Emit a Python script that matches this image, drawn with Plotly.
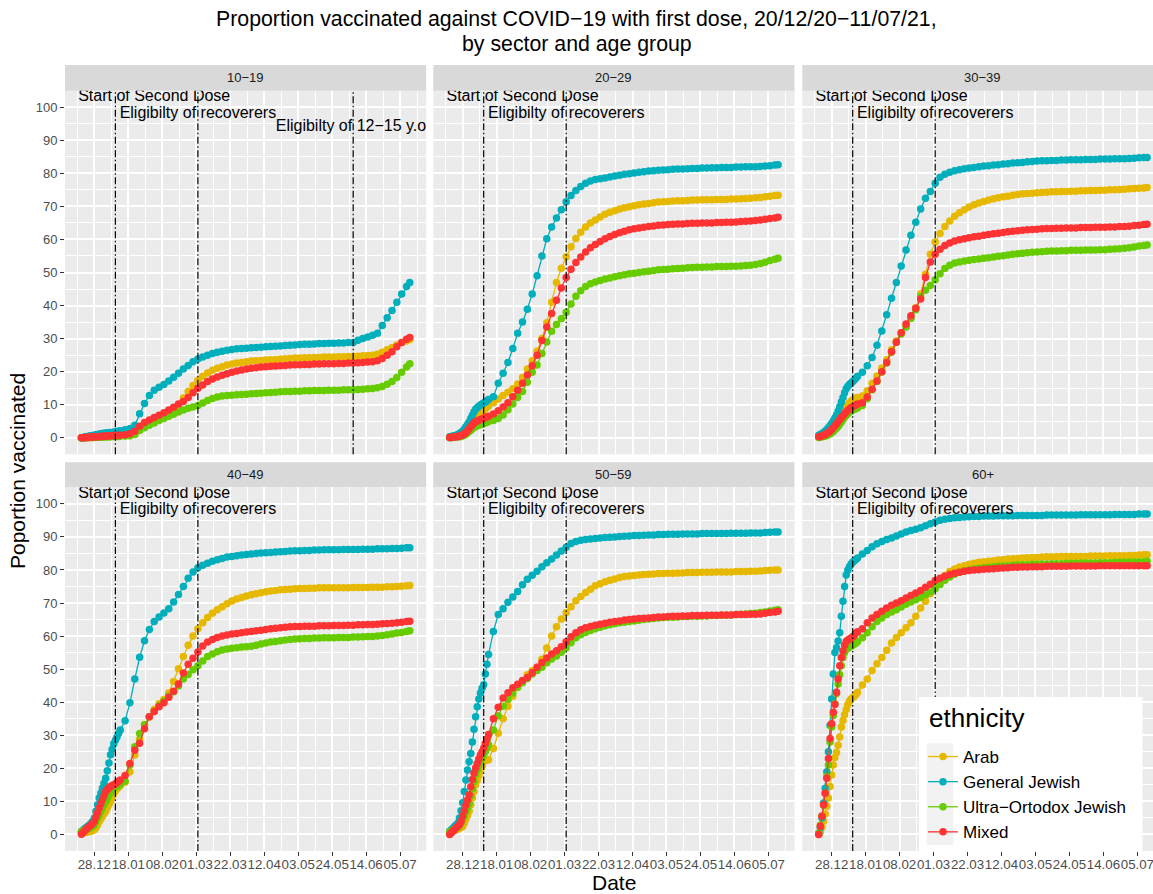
import pandas as pd
import plotly.graph_objects as go

# ---------------- data ----------------
start_date = "2020-12-20"
day_offsets = list(range(0, 25)) + list(range(27, 202, 3)) + [203]
dates = [(pd.Timestamp(start_date) + pd.Timedelta(days=d)).strftime("%Y-%m-%d") for d in day_offsets]

age_groups = ["10−19", "20−29", "30−39", "40−49", "50−59", "60+"]
ethnicities = ["Arab", "General Jewish", "Ultra−Ortodox Jewish", "Mixed"]
colors = ["#E7B800", "#00AFBB", "#66CC00", "#FF3333"]

# ---- 10-19 ----
arab_10_19 = [0, 0, 0, 0.1, 0.1, 0.1, 0.1, 0.2, 0.2, 0.2, 0.2, 0.3, 0.3, 0.3, 0.3, 0.4, 0.4, 0.4, 0.4, 0.5, 0.5, 0.5, 0.5, 0.5, 0.6,
              0.6, 0.7, 1.2, 2.5, 3.5, 4.5, 5.4, 6.2, 7.0, 7.8,
              8.6, 9.8, 12.0, 14.0, 15.8, 17.4, 18.6, 19.6, 20.4, 21.0,
              21.5, 22.0, 22.3, 22.6, 22.8, 23.0, 23.2, 23.3, 23.4, 23.5,
              23.6, 23.7, 23.8, 23.9, 24.0, 24.1, 24.1, 24.2, 24.2, 24.3,
              24.3, 24.4, 24.4, 24.4, 24.5, 24.5, 24.6, 24.6, 24.7, 24.8,
              24.9, 25.0, 25.3, 25.9, 26.6, 27.3, 28.1, 28.8, 29.3,
              29.7]
genjew_10_19 = [0, 0.1, 0.2, 0.3, 0.4, 0.5, 0.6, 0.7, 0.8, 0.9, 1.0, 1.1, 1.2, 1.3, 1.4, 1.4, 1.5, 1.5, 1.6, 1.6, 1.7, 1.8, 1.9, 2.0, 2.1,
                2.4, 2.8, 3.8, 7.3, 10.4, 12.8, 14.4, 15.3, 16.1, 17.2,
                18.3, 19.5, 20.8, 21.9, 23.0, 23.8, 24.4, 25.0, 25.5, 25.9,
                26.2, 26.5, 26.7, 26.9, 27.0, 27.1, 27.2, 27.3, 27.4, 27.5,
                27.6, 27.7, 27.8, 27.9, 28.0, 28.1, 28.2, 28.3, 28.3, 28.4,
                28.5, 28.5, 28.6, 28.6, 28.7, 28.7, 28.8, 28.8, 29.5, 30.0,
                30.5, 31.0, 31.6, 34.0, 36.3, 38.5, 41.0, 43.5, 45.8,
                47.0]
ultra_10_19 = [0, 0, 0, 0, 0.1, 0.1, 0.1, 0.1, 0.1, 0.2, 0.2, 0.2, 0.2, 0.2, 0.3, 0.3, 0.3, 0.3, 0.3, 0.4, 0.4, 0.4, 0.4, 0.4, 0.5,
               0.5, 0.6, 1.0, 2.2, 3.0, 3.8, 4.5, 5.2, 5.8, 6.5,
               7.1, 7.8, 8.4, 8.9, 9.3, 9.8, 10.5, 11.3, 11.9, 12.3,
               12.6, 12.8, 12.9, 13.0, 13.1, 13.2, 13.3, 13.4, 13.5, 13.6,
               13.7, 13.8, 13.9, 14.0, 14.0, 14.1, 14.1, 14.2, 14.2, 14.3,
               14.3, 14.3, 14.4, 14.4, 14.4, 14.5, 14.5, 14.5, 14.6, 14.7,
               14.8, 14.9, 15.1, 15.5, 16.2, 17.0, 18.2, 19.8, 21.4,
               22.4]
mixed_10_19 = [0, 0, 0.1, 0.1, 0.1, 0.2, 0.2, 0.2, 0.3, 0.3, 0.3, 0.4, 0.4, 0.4, 0.5, 0.5, 0.5, 0.6, 0.6, 0.6, 0.7, 0.7, 0.7, 0.8, 0.8,
               0.9, 1.2, 2.0, 3.5, 4.6, 5.4, 6.1, 6.8, 7.6, 8.4,
               9.2, 10.2, 11.0, 12.2, 13.6, 15.0, 16.0, 17.0, 17.8, 18.4,
               18.9, 19.4, 19.8, 20.2, 20.5, 20.8, 21.0, 21.2, 21.4, 21.5,
               21.6, 21.7, 21.8, 21.9, 22.0, 22.1, 22.1, 22.2, 22.2, 22.3,
               22.3, 22.4, 22.4, 22.4, 22.5, 22.5, 22.6, 22.6, 22.7, 22.8,
               22.9, 23.0, 23.3, 24.0, 25.0, 26.0, 27.5, 28.8, 29.8,
               30.3]

# ---- 20-29 ----
arab_20_29 = [0.3, 0.3, 0.4, 0.5, 0.6, 0.7, 0.9, 1.1, 1.4, 1.8, 2.3, 2.9, 3.5, 4.2, 4.9, 5.6, 6.4, 6.8, 7.2, 7.6, 8.0, 8.4, 8.8, 9.2, 9.6,
              10.6, 11.7, 12.8, 13.8, 14.8, 16.3, 18.2, 20.8, 23.3, 26.2,
              30.0, 34.8, 41.0, 47.0, 51.3, 54.8, 57.8, 60.3, 62.2, 63.8,
              65.0, 65.9, 66.8, 67.6, 68.2, 68.7, 69.2, 69.6, 69.9, 70.2,
              70.5, 70.7, 70.9, 71.1, 71.3, 71.4, 71.5, 71.6, 71.7, 71.7,
              71.8, 71.9, 71.9, 72.0, 72.0, 72.0, 72.1, 72.1, 72.1, 72.2,
              72.2, 72.3, 72.4, 72.5, 72.6, 72.7, 72.9, 73.1, 73.3,
              73.4]
genjew_20_29 = [0.3, 0.4, 0.5, 0.6, 0.8, 1.0, 1.3, 1.6, 2.0, 2.6, 3.3, 4.0, 4.8, 5.8, 6.8, 7.8, 8.6, 9.1, 9.5, 9.9, 10.2, 10.5, 10.8, 11.2, 11.6,
                12.4, 16.5, 19.5, 22.8, 27.0, 31.6, 35.0, 38.9, 43.5, 49.0,
                55.0, 60.2, 63.8, 66.5, 69.0, 71.4, 73.3, 74.8, 76.0, 77.0,
                77.7, 78.1, 78.4, 78.6, 78.9, 79.2, 79.4, 79.7, 79.9, 80.1,
                80.3, 80.5, 80.7, 80.8, 80.9, 81.0, 81.1, 81.2, 81.3, 81.3,
                81.4, 81.5, 81.5, 81.6, 81.6, 81.7, 81.7, 81.8, 81.8, 81.8,
                81.9, 81.9, 82.0, 82.0, 82.0, 82.1, 82.2, 82.3, 82.5,
                82.6]
ultra_20_29 = [0, 0.1, 0.1, 0.2, 0.2, 0.3, 0.3, 0.4, 0.6, 0.8, 1.1, 1.5, 1.9, 2.3, 2.7, 3.1, 3.4, 3.6, 3.8, 4.0, 4.2, 4.3, 4.5, 4.7, 4.9,
               5.2, 5.8, 6.9, 8.5, 10.2, 12.2, 14.0, 16.8, 19.8, 22.0,
               25.5, 29.0, 32.2, 34.3, 36.0, 38.0, 40.5, 42.8, 44.5, 45.8,
               46.6, 47.1, 47.6, 48.0, 48.3, 48.7, 49.0, 49.3, 49.6, 49.8,
               50.0, 50.2, 50.4, 50.6, 50.8, 50.9, 51.0, 51.1, 51.2, 51.3,
               51.4, 51.5, 51.6, 51.6, 51.7, 51.7, 51.8, 51.8, 51.8, 51.9,
               51.9, 52.0, 52.1, 52.2, 52.4, 52.7, 53.1, 53.6, 54.0,
               54.3]
mixed_20_29 = [0.1, 0.1, 0.2, 0.2, 0.3, 0.4, 0.5, 0.7, 0.9, 1.2, 1.6, 2.1, 2.7, 3.3, 3.9, 4.5, 4.9, 5.1, 5.3, 5.5, 5.7, 5.9, 6.1, 6.3, 6.5,
               7.2, 8.2, 9.3, 10.6, 12.4, 14.4, 16.5, 19.0, 21.8, 25.0,
               29.4, 33.5, 37.6, 41.6, 45.3, 48.5, 51.0, 53.0, 54.7, 56.2,
               57.5, 58.5, 59.4, 60.2, 60.9, 61.5, 62.0, 62.5, 62.9, 63.2,
               63.5, 63.7, 63.9, 64.1, 64.3, 64.4, 64.5, 64.6, 64.7, 64.7,
               64.8, 64.9, 64.9, 65.0, 65.0, 65.0, 65.1, 65.1, 65.2, 65.2,
               65.3, 65.4, 65.5, 65.6, 65.7, 65.9, 66.1, 66.3, 66.5,
               66.7]

# ---- 30-39 ----
arab_30_39 = [0.3, 0.5, 0.8, 1.1, 1.4, 1.7, 2.2, 2.7, 3.3, 4.0, 4.6, 5.2, 5.9, 6.6, 7.3, 8.0, 8.7, 9.4, 10.0, 10.6, 11.1, 11.4, 11.7, 12.0, 12.2,
              12.6, 14.2, 16.5, 18.7, 21.1, 23.6, 26.6, 29.3, 31.8, 34.1,
              36.6, 39.3, 43.6, 49.5, 55.5, 59.2, 61.8, 63.9, 65.6, 67.0,
              68.1, 69.0, 69.8, 70.5, 71.0, 71.5, 71.9, 72.3, 72.6, 72.9,
              73.1, 73.4, 73.6, 73.8, 73.9, 74.0, 74.1, 74.2, 74.3, 74.4,
              74.4, 74.5, 74.5, 74.6, 74.6, 74.7, 74.7, 74.8, 74.8, 74.9,
              74.9, 75.0, 75.0, 75.1, 75.2, 75.3, 75.4, 75.5, 75.6,
              75.7]
genjew_30_39 = [0.8, 1.0, 1.3, 1.6, 2.0, 2.5, 3.0, 3.6, 4.3, 5.1, 6.0, 6.9, 8.0, 9.4, 10.8, 12.2, 13.6, 14.8, 15.6, 16.1, 16.6, 17.0, 17.5, 18.0, 18.6,
                19.8, 21.8, 24.3, 28.0, 32.3, 37.2, 42.2, 47.0, 52.0, 56.8,
                61.3, 65.2, 69.2, 72.5, 74.5, 77.0, 78.8, 79.7, 80.3, 80.8,
                81.1, 81.4, 81.6, 81.8, 82.0, 82.2, 82.3, 82.5, 82.6, 82.8,
                82.9, 83.1, 83.2, 83.3, 83.5, 83.6, 83.7, 83.8, 83.8, 83.9,
                83.9, 84.0, 84.0, 84.1, 84.1, 84.1, 84.2, 84.2, 84.2, 84.3,
                84.3, 84.3, 84.4, 84.4, 84.4, 84.5, 84.6, 84.7, 84.8,
                84.8]
ultra_30_39 = [0.1, 0.2, 0.3, 0.4, 0.5, 0.7, 0.9, 1.2, 1.5, 1.9, 2.4, 2.9, 3.4, 4.1, 4.8, 5.5, 6.2, 6.8, 7.3, 7.7, 8.1, 8.4, 8.6, 8.8, 9.0,
               9.8, 11.8, 14.5, 17.0, 19.9, 22.6, 25.9, 28.9, 31.4, 33.5,
               36.1, 38.7, 42.7, 44.6, 46.1, 47.8, 49.6, 51.2, 52.2, 52.9,
               53.2, 53.5, 53.7, 53.9, 54.1, 54.3, 54.5, 54.7, 54.9, 55.1,
               55.3, 55.5, 55.7, 55.8, 56.0, 56.1, 56.2, 56.3, 56.4, 56.5,
               56.5, 56.6, 56.6, 56.7, 56.7, 56.7, 56.8, 56.8, 56.8, 56.9,
               56.9, 57.0, 57.1, 57.2, 57.3, 57.5, 57.7, 58.0, 58.2,
               58.3]
mixed_30_39 = [0.3, 0.4, 0.6, 0.8, 1.0, 1.3, 1.6, 2.0, 2.5, 3.0, 3.6, 4.2, 4.9, 5.5, 6.1, 6.7, 7.3, 7.8, 8.3, 8.7, 9.1, 9.4, 9.7, 10.0, 10.2,
               10.6, 12.3, 14.7, 17.2, 20.0, 22.8, 26.0, 28.9, 31.8, 34.4,
               36.9, 39.2, 42.0, 48.5, 53.2, 55.5, 57.0, 58.2, 58.9, 59.5,
               59.9, 60.2, 60.5, 60.8, 61.0, 61.3, 61.5, 61.7, 61.9, 62.1,
               62.3, 62.5, 62.6, 62.8, 62.9, 63.0, 63.1, 63.2, 63.3, 63.3,
               63.4, 63.4, 63.5, 63.5, 63.5, 63.6, 63.6, 63.6, 63.7, 63.7,
               63.7, 63.8, 63.8, 63.9, 63.9, 64.0, 64.2, 64.3, 64.5,
               64.6]

# ---- 40-49 ----
arab_40_49 = [0.4, 0.5, 0.6, 0.7, 0.8, 0.9, 1.0, 1.2, 1.4, 2.0, 2.9, 3.9, 4.7, 5.5, 6.3, 7.0, 8.0, 9.0, 10.0, 11.2, 12.4, 13.2, 13.8, 14.3, 14.8,
              15.8, 19.0, 24.0, 28.8, 33.2, 35.6, 37.8, 39.5, 40.8, 42.8,
              46.3, 50.1, 53.8, 57.2, 60.0, 62.2, 64.0, 65.6, 66.9, 68.0,
              68.9, 69.8, 70.6, 71.2, 71.7, 72.1, 72.5, 72.8, 73.1, 73.4,
              73.6, 73.8, 74.0, 74.1, 74.2, 74.3, 74.4, 74.4, 74.5, 74.5,
              74.6, 74.6, 74.6, 74.6, 74.6, 74.6, 74.6, 74.7, 74.7, 74.7,
              74.7, 74.8, 74.8, 74.8, 74.9, 74.9, 75.0, 75.1, 75.2,
              75.3]
genjew_40_49 = [0.9, 1.3, 1.7, 2.1, 2.5, 2.9, 3.4, 4.0, 5.0, 7.0, 9.0, 11.0, 12.5, 14.0, 15.5, 17.0, 19.3, 21.6, 24.1, 25.8, 27.4, 28.5, 29.5, 30.6, 31.6,
                34.4, 39.8, 47.0, 53.6, 58.6, 62.0, 64.4, 65.8, 67.0, 68.3,
                70.3, 72.6, 75.0, 77.5, 79.4, 80.7, 81.4, 82.0, 82.6, 83.1,
                83.5, 83.9, 84.1, 84.3, 84.5, 84.7, 84.8, 85.0, 85.1, 85.2,
                85.3, 85.4, 85.5, 85.6, 85.7, 85.8, 85.8, 85.9, 85.9, 86.0,
                86.0, 86.1, 86.1, 86.1, 86.1, 86.2, 86.2, 86.2, 86.2, 86.3,
                86.3, 86.3, 86.4, 86.4, 86.4, 86.5, 86.5, 86.6, 86.7,
                86.7]
ultra_40_49 = [0.9, 1.1, 1.3, 1.5, 1.7, 1.9, 2.2, 2.5, 2.9, 3.9, 5.0, 6.0, 7.0, 8.0, 9.0, 10.0, 11.0, 12.0, 12.8, 13.5, 14.0, 14.3, 14.6, 14.9, 15.2,
               16.2, 21.0, 26.5, 30.5, 33.2, 35.6, 37.3, 38.9, 40.3, 41.8,
               43.2, 44.9, 47.0, 48.4, 49.8, 51.0, 52.5, 53.8, 54.6, 55.3,
               55.8, 56.1, 56.3, 56.5, 56.7, 56.8, 56.9, 57.2, 57.6, 57.9,
               58.2, 58.4, 58.6, 58.8, 59.0, 59.1, 59.2, 59.3, 59.3, 59.4,
               59.4, 59.5, 59.5, 59.5, 59.6, 59.6, 59.6, 59.7, 59.7, 59.8,
               59.9, 59.9, 60.0, 60.2, 60.4, 60.6, 60.9, 61.1, 61.4,
               61.6]
mixed_40_49 = [0.1, 0.6, 1.1, 1.6, 2.1, 2.5, 2.9, 3.4, 3.9, 5.2, 6.6, 8.0, 9.3, 10.6, 11.8, 13.0, 13.6, 14.1, 14.5, 14.8, 15.0, 15.3, 15.7, 16.1, 16.5,
               17.8, 21.5, 25.5, 27.6, 32.0, 35.6, 37.2, 38.6, 39.8, 41.5,
               43.3, 45.5, 48.8, 51.5, 53.3, 55.2, 57.0, 58.2, 59.0, 59.6,
               60.0, 60.3, 60.6, 60.8, 61.0, 61.2, 61.4, 61.6, 61.8, 62.0,
               62.2, 62.4, 62.5, 62.7, 62.8, 62.9, 62.9, 63.0, 63.0, 63.0,
               63.1, 63.1, 63.1, 63.2, 63.2, 63.2, 63.3, 63.3, 63.4, 63.4,
               63.5, 63.5, 63.6, 63.7, 63.8, 63.9, 64.0, 64.2, 64.4,
               64.5]

# ---- 50-59 ----
arab_50_59 = [0.9, 1.0, 1.1, 1.2, 1.4, 1.6, 1.8, 2.1, 2.4, 3.4, 4.6, 5.8, 7.0, 9.0, 11.0, 13.0, 15.0, 16.4, 17.8, 19.2, 20.6, 22.1, 22.3, 22.5, 22.6,
              26.0, 30.6, 35.0, 38.8, 41.8, 44.5, 46.5, 48.3, 49.5, 50.6,
              53.0, 56.4, 60.0, 62.8, 65.2, 67.1, 68.9, 70.7, 72.0, 73.2,
              74.2, 75.2, 75.8, 76.4, 76.9, 77.3, 77.7, 78.0, 78.2, 78.3,
              78.5, 78.6, 78.7, 78.8, 78.9, 78.9, 79.0, 79.0, 79.1, 79.1,
              79.2, 79.2, 79.2, 79.3, 79.3, 79.3, 79.4, 79.4, 79.4, 79.4,
              79.5, 79.5, 79.5, 79.6, 79.6, 79.7, 79.8, 79.9, 80.0,
              80.0]
genjew_50_59 = [0.9, 1.4, 1.9, 2.4, 2.9, 3.4, 5.0, 7.2, 9.6, 13.0, 16.5, 19.5, 22.0, 24.5, 28.0, 31.8, 35.6, 38.6, 41.0, 42.8, 44.2, 45.3, 48.5, 51.5, 54.4,
                61.4, 66.5, 68.3, 70.2, 71.8, 73.5, 75.5, 77.2, 78.4, 79.6,
                81.0, 82.2, 83.3, 84.5, 85.7, 86.9, 88.0, 88.6, 89.0, 89.2,
                89.4, 89.5, 89.7, 89.8, 89.9, 90.0, 90.1, 90.2, 90.3, 90.4,
                90.4, 90.5, 90.6, 90.6, 90.7, 90.7, 90.8, 90.8, 90.8, 90.9,
                90.9, 90.9, 90.9, 91.0, 91.0, 91.0, 91.0, 91.0, 91.0, 91.1,
                91.1, 91.1, 91.1, 91.2, 91.2, 91.2, 91.3, 91.4, 91.5,
                91.5]
ultra_50_59 = [0.7, 1.0, 1.3, 1.6, 1.9, 2.2, 2.6, 3.5, 4.6, 5.7, 6.8, 8.0, 9.4, 11.6, 13.8, 16.0, 18.2, 19.6, 20.9, 22.0, 23.1, 24.1, 25.1, 26.1, 27.1,
               31.6, 35.9, 38.8, 40.9, 42.8, 44.5, 45.9, 47.2, 48.5, 49.6,
               50.6, 51.9, 53.1, 54.0, 55.1, 56.5, 58.0, 59.5, 60.4, 61.1,
               61.7, 62.2, 62.7, 63.1, 63.4, 63.7, 64.0, 64.2, 64.4, 64.6,
               64.8, 65.0, 65.2, 65.3, 65.5, 65.6, 65.7, 65.7, 65.8, 65.9,
               65.9, 66.0, 66.0, 66.1, 66.1, 66.2, 66.2, 66.3, 66.3, 66.4,
               66.5, 66.6, 66.7, 66.8, 66.9, 67.1, 67.3, 67.6, 67.8,
               68.0]
mixed_50_59 = [0, 0.5, 1.0, 1.5, 2.0, 2.5, 3.0, 4.0, 5.6, 7.2, 8.8, 10.4, 12.0, 14.4, 16.6, 18.6, 20.1, 21.5, 22.8, 24.0, 25.0, 26.1, 27.4, 28.8, 30.2,
               35.0, 38.5, 41.3, 42.9, 44.4, 45.4, 46.6, 47.5, 48.9, 50.6,
               52.0, 53.4, 54.6, 55.6, 56.8, 58.3, 59.8, 61.0, 61.9, 62.5,
               62.9, 63.3, 63.6, 63.9, 64.2, 64.4, 64.6, 64.9, 65.0, 65.2,
               65.3, 65.4, 65.5, 65.6, 65.8, 65.8, 65.9, 66.0, 66.0, 66.1,
               66.1, 66.2, 66.2, 66.2, 66.3, 66.3, 66.3, 66.4, 66.4, 66.4,
               66.5, 66.5, 66.5, 66.6, 66.6, 66.7, 66.9, 67.1, 67.3,
               67.5]

# ---- 60+ ----
arab_60p = [0, 0.8, 2.2, 4.0, 6.2, 8.5, 11.0, 14.5, 18.0, 21.0, 23.3, 24.8, 27.0, 29.5, 32.5, 34.5, 36.2, 37.8, 39.3, 40.3, 41.0, 41.4, 41.8, 42.3, 43.0,
            45.2, 47.0, 49.6, 51.6, 53.5, 55.7, 57.9, 59.6, 61.0, 62.5,
            64.0, 66.0, 68.5, 70.5, 72.8, 75.0, 77.0, 78.3, 79.5, 80.3,
            80.9, 81.3, 81.7, 82.0, 82.3, 82.5, 82.6, 82.8, 83.0, 83.1,
            83.3, 83.4, 83.5, 83.6, 83.7, 83.8, 83.8, 83.9, 84.0, 84.0,
            84.0, 84.1, 84.1, 84.1, 84.1, 84.1, 84.1, 84.2, 84.2, 84.2,
            84.2, 84.3, 84.3, 84.3, 84.3, 84.4, 84.4, 84.5, 84.6,
            84.6]
genjew_60p = [0.4, 2.0, 5.0, 9.5, 14.0, 19.0, 25.0, 33.0, 41.0, 48.5, 55.0, 56.5, 58.5, 61.0, 66.0, 70.5, 75.0, 78.5, 80.0, 81.0, 81.8, 82.3, 82.8, 83.2, 83.6,
              84.8, 85.9, 87.0, 87.9, 88.6, 89.2, 89.7, 90.3, 90.9, 91.5,
              91.9, 92.3, 92.8, 93.4, 94.0, 94.5, 95.0, 95.3, 95.6, 95.8,
              95.9, 96.0, 96.1, 96.2, 96.2, 96.3, 96.3, 96.3, 96.4, 96.4,
              96.4, 96.4, 96.5, 96.5, 96.5, 96.5, 96.5, 96.5, 96.6, 96.6,
              96.6, 96.6, 96.6, 96.6, 96.6, 96.7, 96.7, 96.7, 96.7, 96.7,
              96.7, 96.7, 96.8, 96.8, 96.8, 96.8, 96.8, 96.9, 96.9,
              96.9]
ultra_60p = [0.4, 2.8, 5.6, 8.8, 12.5, 17.5, 21.0, 28.0, 32.5, 36.0, 39.5, 42.6, 45.5, 48.3, 51.0, 53.5, 55.0, 56.0, 56.3, 56.6, 56.9, 57.2, 57.5, 57.9, 58.3,
             59.5, 61.0, 62.8, 64.4, 65.5, 66.5, 67.3, 68.0, 68.8, 69.6,
             70.3, 71.0, 71.7, 72.5, 73.3, 74.3, 75.6, 76.9, 77.9, 78.7,
             79.3, 79.7, 80.0, 80.3, 80.5, 80.7, 80.8, 81.0, 81.1, 81.2,
             81.3, 81.4, 81.5, 81.6, 81.6, 81.7, 81.7, 81.8, 81.8, 81.9,
             81.9, 81.9, 82.0, 82.0, 82.0, 82.1, 82.1, 82.1, 82.1, 82.2,
             82.2, 82.2, 82.3, 82.3, 82.3, 82.4, 82.4, 82.5, 82.5,
             82.6]
mixed_60p = [0, 2.5, 5.5, 9.0, 12.5, 17.0, 23.0, 29.0, 33.5, 37.0, 39.3, 43.0, 47.0, 51.0, 53.5, 55.5, 57.2, 58.4, 58.8, 59.1, 59.4, 59.8, 60.2, 60.9, 61.3,
             62.2, 64.0, 65.5, 66.5, 67.5, 68.5, 69.3, 70.0, 70.7, 71.5,
             72.3, 73.0, 73.8, 74.8, 75.7, 76.8, 77.5, 78.1, 78.6, 79.0,
             79.3, 79.6, 79.8, 80.0, 80.1, 80.2, 80.3, 80.4, 80.5, 80.6,
             80.7, 80.8, 80.8, 80.9, 80.9, 81.0, 81.0, 81.0, 81.1, 81.1,
             81.1, 81.1, 81.1, 81.2, 81.2, 81.2, 81.2, 81.2, 81.2, 81.3,
             81.3, 81.3, 81.3, 81.3, 81.3, 81.3, 81.3, 81.3, 81.3,
             81.3]

panel_series = [
    [arab_10_19, genjew_10_19, ultra_10_19, mixed_10_19],
    [arab_20_29, genjew_20_29, ultra_20_29, mixed_20_29],
    [arab_30_39, genjew_30_39, ultra_30_39, mixed_30_39],
    [arab_40_49, genjew_40_49, ultra_40_49, mixed_40_49],
    [arab_50_59, genjew_50_59, ultra_50_59, mixed_50_59],
    [arab_60p, genjew_60p, ultra_60p, mixed_60p],
]

# events
event_dates = ["2021-01-10", "2021-03-02", "2021-06-06"]
event_labels = ["Start of Second Dose", "Eligibilty of recoverers", "Eligibilty of 12−15 y.o."]
event_label_dates = ["2021-02-03", "2021-03-02", "2021-06-06"]
event_label_y = [103, 98, 94]

tick_dates = ["2020-12-28", "2021-01-18", "2021-02-08", "2021-03-01", "2021-03-22",
              "2021-04-12", "2021-05-03", "2021-05-24", "2021-06-14", "2021-07-05"]
tick_labels = ["28.12", "18.01", "08.02", "01.03", "22.03", "12.04", "03.05", "24.05", "14.06", "05.07"]
y_ticks = [0, 10, 20, 30, 40, 50, 60, 70, 80, 90, 100]

# ---------------- layout geometry (pixels) ----------------
W, H = 1153, 894
FONT = "Liberation Sans, Arial, Helvetica, sans-serif"
col_px = [(65.0, 426.2), (433.3, 794.5), (802.3, 1153.0)]
full_w = 361.2
row_px = [(90.7, 454.3), (487.3, 851.0)]
strip_px = [(65.0, 90.7), (462.3, 487.3)]

def px_x(x):
    return x / W

def px_y(y):
    return 1 - y / H

first = pd.Timestamp(dates[0])
last = pd.Timestamp(dates[-1])
span = last - first
x_lo = first - span * 0.05
x_hi = last + span * 0.05

tick_ts = [pd.Timestamp(t) for t in tick_dates]
minor_vals = [(t - pd.Timedelta(hours=252)).strftime("%Y-%m-%d %H:%M") for t in tick_ts] + \
             [(tick_ts[-1] + pd.Timedelta(hours=252)).strftime("%Y-%m-%d %H:%M")]

fig = go.Figure()
shapes = []
annotations = []

for k in range(6):
    r, c = divmod(k, 3)
    ax = "" if k == 0 else str(k + 1)
    for e, (name, color) in enumerate(zip(ethnicities, colors)):
        fig.add_trace(go.Scatter(
            x=dates, y=panel_series[k][e], mode="lines+markers", name=name,
            line=dict(color=color, width=1.3),
            marker=dict(color=color, size=7.5, line=dict(width=0)),
            legendgroup=name, showlegend=(k == 0),
            xaxis="x" + ax, yaxis="y" + ax, hoverinfo="skip"))
    n_ev = 3 if k == 0 else 2
    for j in range(n_ev):
        fig.add_trace(go.Scatter(
            x=[event_label_dates[j]], y=[event_label_y[j]], mode="text",
            text=[event_labels[j]], textposition="middle center",
            textfont=dict(size=16, color="black", family=FONT),
            showlegend=False, hoverinfo="skip", cliponaxis=True,
            xaxis="x" + ax, yaxis="y" + ax))
        shapes.append(dict(type="line", xref="x" + ax, yref="y" + ax + " domain",
                           x0=event_dates[j], x1=event_dates[j], y0=0, y1=1,
                           line=dict(color="black", width=1.2, dash="7px,2.5px,1.5px,2.5px"),
                           layer="above"))
    x0p, x1p = col_px[c]
    rng_hi = x_hi if c < 2 else x_lo + (x_hi - x_lo) * ((x1p - x0p) / full_w)
    y0p, y1p = row_px[r]
    fig.layout["xaxis" + ax] = dict(
        domain=[px_x(x0p), px_x(x1p)], anchor="y" + ax, type="date",
        range=[x_lo.strftime("%Y-%m-%d %H:%M"), rng_hi.strftime("%Y-%m-%d %H:%M")],
        tickmode="array", tickvals=tick_dates, ticktext=tick_labels, tickangle=0,
        showticklabels=(r == 1), ticks="outside" if r == 1 else "",
        ticklen=4, tickwidth=1, tickcolor="#333333",
        ticklabelstandoff=-3, ticklabeloverflow="allow",
        tickfont=dict(size=13.3, color="#4D4D4D", family=FONT),
        showgrid=True, gridcolor="white", gridwidth=1.6, zeroline=False, showline=False,
        minor=dict(tickmode="array", tickvals=minor_vals, showgrid=True,
                   gridcolor="white", gridwidth=0.8, ticks=""),
        fixedrange=True)
    fig.layout["yaxis" + ax] = dict(
        domain=[px_y(y1p), px_y(y0p)], anchor="x" + ax, range=[-5, 105],
        tickmode="array", tickvals=y_ticks,
        showticklabels=(c == 0), ticks="outside" if c == 0 else "",
        ticklen=4, tickwidth=1, tickcolor="#333333",
        tickfont=dict(size=13, color="#4D4D4D", family=FONT),
        showgrid=True, gridcolor="white", gridwidth=1.6, zeroline=False, showline=False,
        minor=dict(tickmode="array", tickvals=[-5, 5, 15, 25, 35, 45, 55, 65, 75, 85, 95, 105],
                   showgrid=True, gridcolor="white", gridwidth=0.8, ticks=""),
        fixedrange=True)
    s0, s1 = strip_px[r]
    shapes.append(dict(type="rect", xref="paper", yref="paper",
                       x0=px_x(x0p), x1=px_x(x1p), y0=px_y(s1), y1=px_y(s0),
                       fillcolor="#D9D9D9", line=dict(width=0), layer="below"))
    annotations.append(dict(text=age_groups[k], xref="paper", yref="paper",
                            x=px_x(x0p + full_w / 2), y=px_y((s0 + s1) / 2),
                            showarrow=False, xanchor="center", yanchor="middle",
                            font=dict(size=13, color="#1A1A1A", family=FONT)))

# legend background (white box and grey key column) + legend title
shapes.append(dict(type="rect", xref="paper", yref="paper",
                   x0=px_x(919), x1=px_x(1142.5), y0=px_y(852), y1=px_y(697),
                   fillcolor="white", line=dict(width=0), layer="above"))
shapes.append(dict(type="rect", xref="paper", yref="paper",
                   x0=px_x(926.7), x1=px_x(953.3), y0=px_y(845), y1=px_y(743.3),
                   fillcolor="#F2F2F2", line=dict(width=0), layer="above"))
annotations.append(dict(text="ethnicity", xref="paper", yref="paper",
                        x=px_x(926.5), y=px_y(718), showarrow=False,
                        xanchor="left", yanchor="middle",
                        font=dict(size=26, color="black", family=FONT)))

# titles
annotations.append(dict(text="Proportion vaccinated against COVID−19 with first dose, 20/12/20−11/07/21,",
                        xref="paper", yref="paper", x=0.5, y=px_y(19), showarrow=False,
                        xanchor="center", yanchor="middle",
                        font=dict(size=21.3, color="black", family=FONT)))
annotations.append(dict(text="by sector and age group",
                        xref="paper", yref="paper", x=0.5, y=px_y(44), showarrow=False,
                        xanchor="center", yanchor="middle",
                        font=dict(size=21.3, color="black", family=FONT)))
annotations.append(dict(text="Date", xref="paper", yref="paper", x=px_x(614), y=px_y(882),
                        showarrow=False, xanchor="center", yanchor="middle",
                        font=dict(size=21, color="black", family=FONT)))
annotations.append(dict(text="Poportion vaccinated", xref="paper", yref="paper",
                        x=px_x(18), y=px_y(471), textangle=-90, showarrow=False,
                        xanchor="center", yanchor="middle",
                        font=dict(size=21, color="black", family=FONT)))

fig.update_layout(
    width=W, height=H, margin=dict(l=0, r=0, t=0, b=0),
    paper_bgcolor="white", plot_bgcolor="#EBEBEB",
    shapes=shapes, annotations=annotations,
    font=dict(family=FONT),
    legend=dict(x=px_x(923), y=px_y(739), xanchor="left", yanchor="top",
                bgcolor="rgba(0,0,0,0)", borderwidth=0,
                font=dict(size=17, color="black", family=FONT),
                itemwidth=30, tracegroupgap=0),
    showlegend=True,
)

fig.write_html("out.html", config={"displayModeBar": False},
               post_script="document.body.style.margin='0';document.body.style.overflow='hidden';")
